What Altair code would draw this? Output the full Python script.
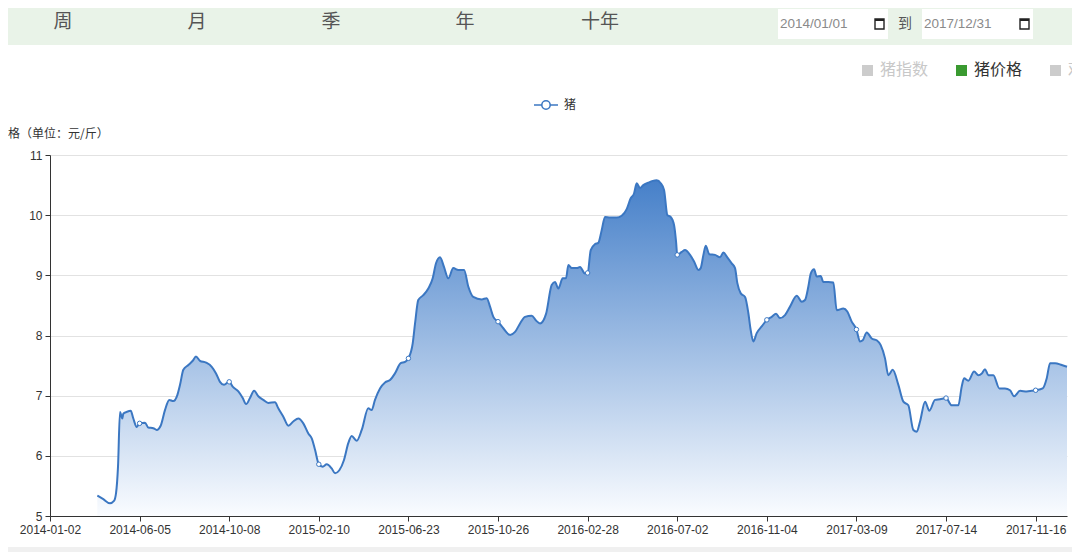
import json
import altair as alt
import pandas as pd

# ---------------- data ----------------
x_labels = ["2014-01-02", "2014-06-05", "2014-10-08", "2015-02-10", "2015-06-23", "2015-10-26",
            "2016-02-28", "2016-07-02", "2016-11-04", "2017-03-09", "2017-07-14", "2017-11-16"]

# position along the category axis, in label-interval units (0 = 2014-01-02, 11 = 2017-11-16)
pos = [0.528, 0.595, 0.670, 0.714, 0.737, 0.759, 0.781, 0.807, 0.818, 0.856, 0.901, 0.930, 0.968, 1.000,
       1.060, 1.097, 1.153, 1.191, 1.235, 1.283, 1.331, 1.376, 1.421, 1.451, 1.488, 1.544, 1.593, 1.629,
       1.674, 1.741, 1.805, 1.853, 1.897, 1.942, 2.000, 2.039, 2.102, 2.151, 2.188, 2.232, 2.277, 2.325,
       2.381, 2.436, 2.511, 2.548, 2.604, 2.660, 2.715, 2.771, 2.827, 2.883, 2.921, 2.958, 3.000, 3.044,
       3.088, 3.144, 3.181, 3.229, 3.281, 3.329, 3.367, 3.423, 3.479, 3.552, 3.590, 3.627, 3.683, 3.739,
       3.795, 3.850, 3.914, 3.962, 4.000, 4.048, 4.074, 4.110, 4.166, 4.222, 4.271, 4.308, 4.353, 4.397,
       4.445, 4.501, 4.557, 4.621, 4.669, 4.724, 4.818, 4.874, 4.911, 4.948, 5.000, 5.059, 5.134, 5.190,
       5.246, 5.301, 5.376, 5.424, 5.469, 5.536, 5.599, 5.636, 5.673, 5.722, 5.759, 5.785, 5.823, 5.878,
       5.915, 5.971, 6.000, 6.035, 6.083, 6.119, 6.157, 6.194, 6.250, 6.325, 6.380, 6.436, 6.481, 6.518,
       6.548, 6.585, 6.622, 6.677, 6.727, 6.771, 6.816, 6.853, 6.890, 6.927, 6.964, 6.987, 7.000, 7.050,
       7.087, 7.143, 7.188, 7.236, 7.262, 7.292, 7.318, 7.358, 7.422, 7.478, 7.515, 7.559, 7.608, 7.645,
       7.671, 7.709, 7.757, 7.794, 7.820, 7.849, 7.887, 7.943, 8.000, 8.055, 8.103, 8.147, 8.203, 8.259,
       8.334, 8.390, 8.426, 8.463, 8.490, 8.527, 8.557, 8.601, 8.631, 8.687, 8.742, 8.780, 8.854, 8.898,
       8.947, 9.000, 9.040, 9.070, 9.115, 9.171, 9.226, 9.271, 9.319, 9.356, 9.405, 9.468, 9.524, 9.579,
       9.635, 9.673, 9.710, 9.766, 9.814, 9.877, 9.933, 10.000, 10.063, 10.137, 10.175, 10.201, 10.249,
       10.313, 10.361, 10.399, 10.435, 10.472, 10.528, 10.595, 10.658, 10.714, 10.759, 10.826, 10.901,
       10.956, 11.000, 11.079, 11.124, 11.161, 11.217, 11.291, 11.350]

price = [5.34, 5.28, 5.21, 5.25, 5.38, 5.82, 6.73, 6.62, 6.70, 6.73, 6.75, 6.62, 6.48, 6.54,
         6.55, 6.47, 6.46, 6.43, 6.50, 6.76, 6.93, 6.91, 7.01, 7.18, 7.43, 7.51, 7.58, 7.65,
         7.58, 7.55, 7.48, 7.37, 7.23, 7.18, 7.23, 7.15, 7.07, 6.96, 6.86, 6.96, 7.08, 6.99,
         6.93, 6.88, 6.89, 6.79, 6.65, 6.50, 6.57, 6.62, 6.54, 6.37, 6.29, 6.10, 5.86, 5.82,
         5.86, 5.79, 5.71, 5.76, 5.93, 6.21, 6.33, 6.25, 6.43, 6.79, 6.76, 6.93, 7.12, 7.22,
         7.26, 7.37, 7.54, 7.56, 7.62, 7.87, 8.20, 8.59, 8.67, 8.78, 8.95, 9.20, 9.30, 9.14,
         8.95, 9.12, 9.09, 9.09, 8.81, 8.64, 8.60, 8.62, 8.48, 8.31, 8.23, 8.12, 8.01, 8.06,
         8.20, 8.31, 8.33, 8.25, 8.20, 8.36, 8.84, 8.89, 8.78, 8.95, 8.95, 9.17, 9.12, 9.12,
         9.14, 9.03, 9.04, 9.42, 9.52, 9.54, 9.75, 9.97, 9.96, 9.96, 9.99, 10.10, 10.28, 10.36,
         10.53, 10.45, 10.50, 10.54, 10.57, 10.58, 10.53, 10.42, 10.00, 9.97, 9.84, 9.56, 9.34, 9.39,
         9.42, 9.34, 9.23, 9.09, 9.12, 9.34, 9.49, 9.35, 9.34, 9.30, 9.38, 9.30, 9.20, 9.12,
         8.87, 8.70, 8.64, 8.37, 8.09, 7.90, 8.04, 8.15, 8.26, 8.31, 8.36, 8.29, 8.34, 8.48,
         8.66, 8.56, 8.59, 8.81, 9.03, 9.10, 8.98, 8.99, 8.89, 8.89, 8.88, 8.42, 8.45, 8.40,
         8.23, 8.10, 7.90, 7.92, 8.05, 7.95, 7.92, 7.84, 7.62, 7.34, 7.43, 7.18, 6.90, 6.84,
         6.43, 6.40, 6.57, 6.90, 6.75, 6.93, 6.94, 6.96, 6.84, 6.84, 7.15, 7.29, 7.25,
         7.40, 7.34, 7.37, 7.44, 7.34, 7.34, 7.12, 7.12, 7.09, 6.99, 7.08, 7.07,
         7.08, 7.09, 7.12, 7.29, 7.54, 7.54, 7.51, 7.48]

y_ticks = [5, 6, 7, 8, 9, 10, 11]
nav_items = ["周", "月", "季", "年", "十年"]
date_from, date_to = "2014/01/01", "2017/12/31"
legend_top = ["猪指数", "猪价格", "鸡指数"]
series_name = "猪"
y_title = "价格（单位：元/斤）"

df = pd.DataFrame({"t": pos, "v": price})

# ---------------- layout ----------------
W, H = 1017, 361          # plot area
OX, OY = 50, 155          # plot origin in page pixels
SVG_W, SVG_H = 1064, 544  # whole chart (page has 8px margins)
CJK = "Noto Sans CJK SC"
LAT = "Liberation Sans, Noto Sans CJK SC"
LINE = "#3b77c2"


def rx(x):
    return x - OX


def ry(y):
    return y - OY


one = alt.Data(values=[{"k": 1}])


def rect(x1, x2, y1, y2, fill, stroke=None, sw=0):
    kw = dict(fill=fill)
    if stroke:
        kw.update(stroke=stroke, strokeWidth=sw)
    return alt.Chart(one).mark_rect(**kw).encode(
        x=alt.value(rx(x1)), x2=alt.value(rx(x2)), y=alt.value(ry(y1)), y2=alt.value(ry(y2)))


def text(x, y, s, size, color, align="left", font=CJK, weight="normal"):
    return alt.Chart(one).mark_text(align=align, baseline="middle", fontSize=size, color=color,
                                    font=font, fontWeight=weight).encode(
        x=alt.value(rx(x)), y=alt.value(ry(y)), text=alt.value(s))


layers = []
# top navigation bar
layers.append(rect(0, 1080, 0, 45, "#e9f3e8"))
for name, cx in zip(nav_items, [63, 197, 331, 465, 600]):
    layers.append(text(cx, 22, name, 19, "#555555", align="center"))
# date inputs
for (bx1, bx2), s in zip([(778, 888), (922, 1033)], [date_from, date_to]):
    layers.append(rect(bx1, bx2, 9, 39, "#ffffff"))
    layers.append(text(bx1 + 2, 24, s, 13.5, "#8a8a8a", font=LAT))
    layers.append(rect(bx2 - 13, bx2 - 4, 19, 29, "none", stroke="#222222", sw=1.4))
    layers.append(rect(bx2 - 13, bx2 - 4, 19, 21, "#222222"))
layers.append(text(905, 24, "到", 14, "#555555", align="center"))
# series selector row
for (sq, tx), s, c, tc in zip([(862, 880), (956, 974), (1050, 1068)], legend_top,
                               ["#cccccc", "#3a9a30", "#cccccc"], ["#c8c8c8", "#333333", "#c8c8c8"]):
    layers.append(rect(sq, sq + 11, 65, 76, c))
    layers.append(text(tx, 70, s, 16, tc))
# chart legend
layers.append(alt.Chart(one).mark_rule(color=LINE, strokeWidth=1.5).encode(
    x=alt.value(rx(534)), x2=alt.value(rx(558)), y=alt.value(ry(105))))
layers.append(alt.Chart(one).mark_point(shape="circle", filled=True, fill="white", stroke=LINE,
                                        strokeWidth=1.5, size=70, opacity=1).encode(
    x=alt.value(rx(546)), y=alt.value(ry(105))))
layers.append(text(564, 105, series_name, 12, "#333333"))
# y-axis title
layers.append(text(-4, 134, y_title, 12, "#333333"))
# bottom band
layers.append(rect(0, 1080, 547, 562, "#f0f0f0"))

# ---------------- chart ----------------
x_enc = alt.X("t:Q", scale=alt.Scale(domain=[0, 11.35], nice=False, zero=False),
              axis=alt.Axis(values=list(range(len(x_labels))),
                            labelExpr=json.dumps(x_labels) + "[round(datum.value)]",
                            title=None, grid=False, domainColor="#333333", tickColor="#333333",
                            tickSize=5, labelColor="#333333", labelFontSize=12, labelFont=LAT,
                            labelPadding=3, labelFlush=False, labelOverlap=False, labelBound=False))
y_enc = alt.Y("v:Q", scale=alt.Scale(domain=[5, 11], nice=False, zero=False),
              axis=alt.Axis(values=y_ticks, title=None, grid=True, gridColor="#e2e2e2",
                            domainColor="#333333", tickColor="#333333", tickSize=5,
                            labelColor="#333333", labelFontSize=12, labelFont=LAT, labelPadding=3))

base = alt.Chart(df)
gradient = alt.Gradient(gradient="linear",
                        stops=[alt.GradientStop(color="#4680c9", offset=0),
                               alt.GradientStop(color="#fafcff", offset=1)],
                        x1=1, x2=1, y1=0, y2=1)
area = base.mark_area(interpolate="monotone", color=gradient).encode(x=x_enc, y=y_enc, y2=alt.datum(5))
line = base.mark_line(interpolate="monotone", color=LINE, strokeWidth=2).encode(x=x_enc, y=y_enc)
marks = base.transform_filter("datum.t % 1 == 0").mark_point(
    shape="circle", filled=True, fill="white", stroke=LINE, strokeWidth=1, size=20, opacity=1
).encode(x=x_enc, y=y_enc)

chart = alt.layer(*layers, area, line, marks).properties(
    width=W, height=H, autosize="none",
    padding={"left": OX - 8, "top": OY - 8, "right": SVG_W - (OX - 8) - W,
             "bottom": SVG_H - (OY - 8) - H},
    background="white",
).configure_view(stroke=None)

chart.save("out.html", embed_options={"renderer": "svg", "actions": False})
